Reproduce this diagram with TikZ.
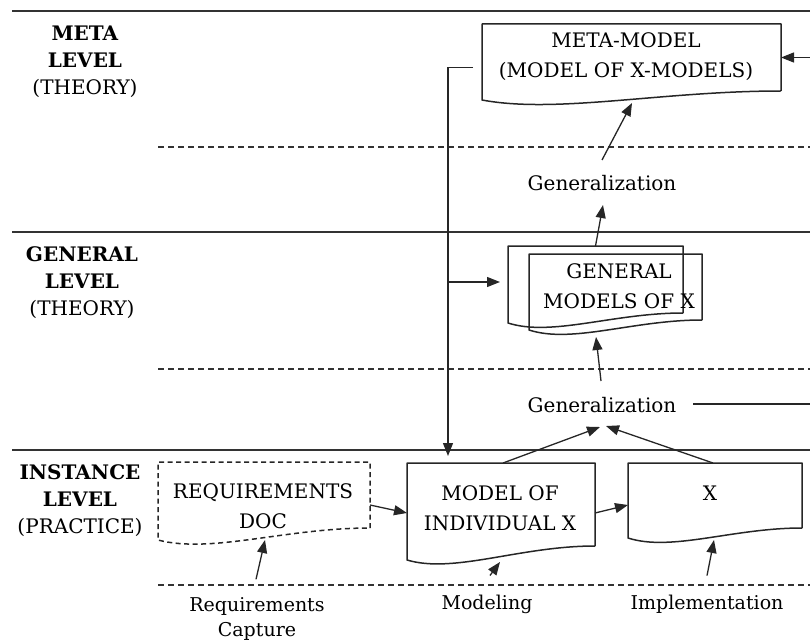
\documentclass[tikz,border=0pt]{standalone}
\usepackage{fontspec}
\setmainfont{DejaVu Serif}
\usetikzlibrary{arrows.meta,calc}
\begin{document}
\begin{tikzpicture}[x=1pt,y=-1pt,
  hline/.style={line width=1.8pt, draw=black!80},
  dline/.style={line width=1.3pt, draw=black!80, dash pattern=on 6pt off 4pt},
  boxline/.style={line width=1.5pt, draw=black!85, line join=round},
  conn/.style={line width=1.3pt, draw=black!85},
  arr/.style={conn, -{Triangle[length=13pt,width=10pt]}},
  txt/.style={inner sep=0pt, align=center, text=black, font=\fontsize{20}{30}\selectfont},
  side/.style={inner sep=0pt, align=center, text=black, font=\fontsize{20}{27}\selectfont},
  small/.style={inner sep=0pt, align=center, text=black, font=\fontsize{19}{25}\selectfont},
  box/.style={inner sep=0pt, outer sep=0pt},
  wavebox/.style n args={2}{append after command={\pgfextra{
    \draw[boxline,#2] (\tikzlastnode.south east) -- (\tikzlastnode.north east) -- (\tikzlastnode.north west)
      -- ([yshift=-#1 pt]\tikzlastnode.south west)
      .. controls ($(\tikzlastnode.south west)!0.25!(\tikzlastnode.south east)+(0,#1+14)$)
      and ($(\tikzlastnode.south west)!0.6!(\tikzlastnode.south east)$) .. (\tikzlastnode.south east);}}}
  ]
\useasboundingbox (0,0) rectangle (810,644);

% level separators
\draw[hline] (12,11) -- (810,11);
\draw[hline] (12,232) -- (810,232);
\draw[hline] (12,450) -- (810,450);
\draw[dline] (158,147) -- (810,147);
\draw[dline] (158,369) -- (810,369);
\draw[dline] (158,585) -- (810,585);

% side labels
\node[side] (lmeta) at (85,62) {\textbf{META}\\\textbf{LEVEL}\\(THEORY)};
\node[side] (lgen) at (82,283) {\textbf{GENERAL}\\\textbf{LEVEL}\\(THEORY)};
\node[side] (linst) at (80,501) {\textbf{INSTANCE}\\\textbf{LEVEL}\\(PRACTICE)};

% boxes
\node[box, minimum width=299pt, minimum height=67pt, wavebox={9}{}] (meta) at (631.5,57.5) {};
\node[txt] (metatxt) at (626,57) {META-MODEL\\(MODEL OF X-MODELS)};

\node[box, minimum width=175pt, minimum height=67pt, wavebox={10}{}] (genback) at (595.5,279.5) {};
\node[box, minimum width=173pt, minimum height=66pt, wavebox={10}{}] (genfront) at (615.5,287) {};
\node[txt] (gentxt) at (619,286) {GENERAL\\MODELS OF X};

\node[box, minimum width=212pt, minimum height=66pt, wavebox={12}{dash pattern=on 5pt off 3.5pt}] (req) at (264,495) {};
\node[txt] (reqtxt) at (263,506) {REQUIREMENTS\\DOC};

\node[box, minimum width=188pt, minimum height=83pt, wavebox={14}{}] (model) at (501,504.5) {};
\node[txt] (modeltxt) at (500,508) {MODEL OF\\INDIVIDUAL X};

\node[box, minimum width=174pt, minimum height=65pt, wavebox={10}{}] (xbox) at (715,495.5) {};
\node[txt] (xtxt) at (710,493) {X};

% process labels
\node[txt] (gen1) at (602,183) {Generalization};
\node[txt] (gen2) at (602,405) {Generalization};
\node[small] (rc) at (257,619) {Requirements\\Capture};
\node[small] (mod) at (487,604) {Modeling};
\node[small] (impl) at (707,604) {Implementation};

% connectors
\coordinate (inR) at (810,57.5);
\coordinate (vtop) at (448,67.5);
\coordinate (branch) at (448,282);
\coordinate (outR) at (810,404);

\draw[arr] (inR) -- (meta.east);
\draw[conn] ($(meta.west)+(-9,10)$) -- (vtop);
\draw[arr] (vtop) -- ($(model.north west)+(41,-7)$);
\draw[arr, shorten >=8pt] (branch) -- (branch -| genback.west);

\draw[arr] ($(gen1.center)+(0,-23)$) -- ($(meta.south)+(0.5,12)$);
\draw[arr] (genback.north) -- ($(gen1.center)+(1,22)$);
\draw[arr] ($(gen2.center)+(-1,-24)$) -- ($(genfront.south)+(-19.5,17)$);
\draw[conn] ($(gen2.center)+(91,-1)$) -- (outR);
\draw[arr] ($(model.north)+(2,0)$) -- ($(gen2.center)+(-2,22)$);
\draw[arr] ($(xbox.north)+(-2,0)$) -- ($(gen2.center)+(4,21)$);

\draw[arr] ($(req.east)+(0,10)$) -- ($(model.west)+(0,8.5)$);
\draw[arr] ($(model.east)+(0,8.5)$) -- ($(xbox.west)+(0,9.5)$);

\draw[arr] ($(rc.north)+(-1,-18)$) -- ($(req.south)+(1,12)$);
\draw[arr] ($(mod.north)+(3,-19)$) -- ($(model.south)+(-1,16)$);
\draw[arr] ($(impl.north)+(0,-19)$) -- ($(xbox.south)+(-1,12)$);
\end{tikzpicture}
\end{document}
